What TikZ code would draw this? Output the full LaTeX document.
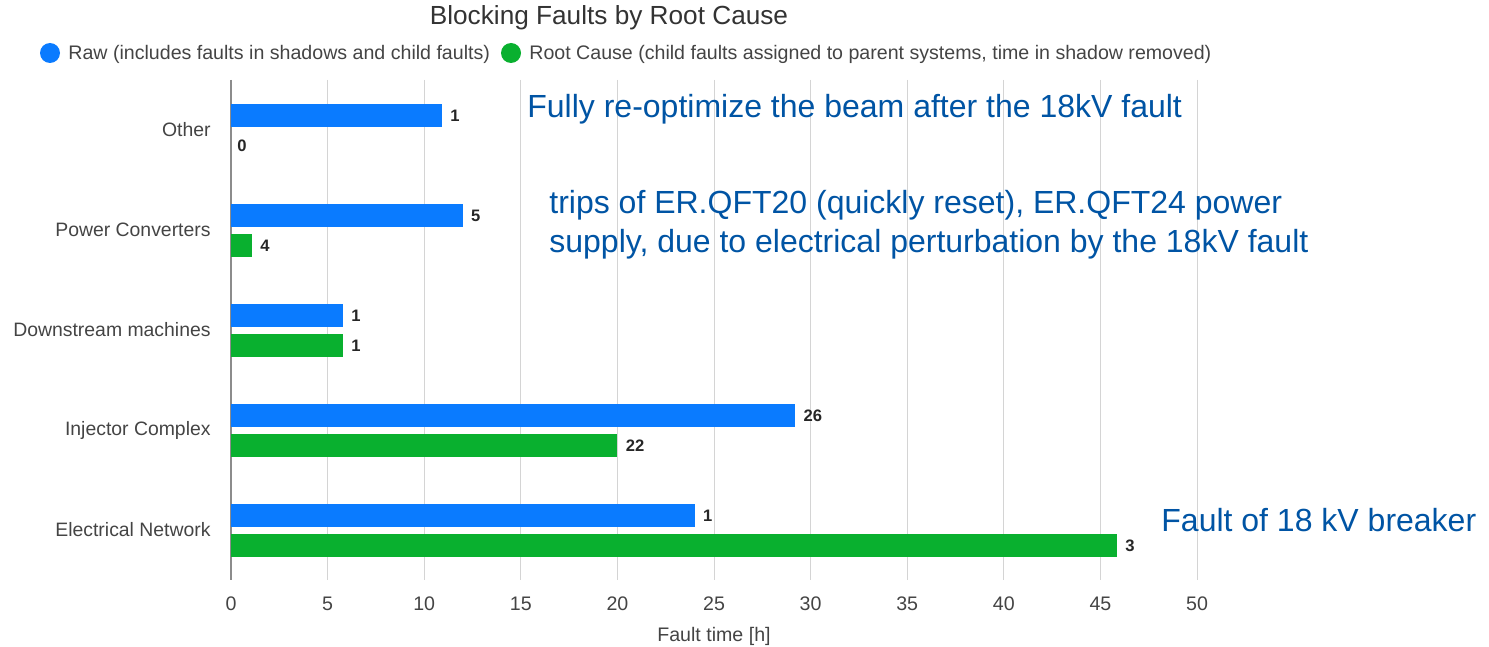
\documentclass[tikz,border=0pt]{standalone}
\usepackage{fontspec}
\setmainfont{Liberation Sans}
\usetikzlibrary{positioning}

\definecolor{rawblue}{RGB}{10,123,255}
\definecolor{rootgreen}{RGB}{9,176,47}
\definecolor{notecol}{RGB}{0,84,164}
\definecolor{gridcol}{RGB}{212,212,212}
\definecolor{axiscol}{RGB}{140,140,140}
\definecolor{labcol}{RGB}{68,68,68}

\begin{document}
\begin{tikzpicture}[
  x=0.5pt, y=-0.5pt,
  catlab/.style={anchor=east, text=labcol, inner sep=0pt, font=\fontsize{9.7}{11}\selectfont},
  ticklab/.style={anchor=center, text=labcol, inner sep=0pt, font=\fontsize{9.8}{11}\selectfont},
  vallab/.style={anchor=west, text=black!85, inner sep=0pt, font=\bfseries\fontsize{8.3}{10}\selectfont},
  leglab/.style={anchor=west, text=labcol, inner sep=0pt, font=\fontsize{9.8}{11}\selectfont},
  notetext/.style={anchor=west, text=notecol, inner sep=0pt, align=left, font=\fontsize{16}{19.5}\selectfont},
  rawbar/.style={fill=rawblue},
  rootbar/.style={fill=rootgreen},
  gridline/.style={draw=gridcol, line width=0.5pt}
]
\useasboundingbox (0,0) rectangle (1489,647);

% title and legend
\node[text=black!80, inner sep=0pt, font=\fontsize{13.1}{15}\selectfont] (title) at (609,18) {Blocking Faults by Root Cause};
\fill[rawblue] (50,53) circle (10) coordinate (rawdot);
\node[leglab] (rawleg) at (68,54) {Raw (includes faults in shadows and child faults)};
\fill[rootgreen] (511,53) circle (10) coordinate (rootdot);
\node[leglab] (rootleg) at (529,54) {Root Cause (child faults assigned to parent systems, time in shadow removed)};

% chart, x in hours
\begin{scope}[shift={(231,0)}, xscale=19.32]
\foreach \h in {5,10,...,50}
  \draw[gridline] (\h,80) -- (\h,580);
\foreach \h in {0,5,...,50}
  \node[ticklab] (t\h) at (\h,604) {\h};
\draw[axiscol, line width=1pt] (0,80) -- (0,580);

% Other
\fill[rawbar] (0,104) rectangle (10.92,127);
\node[vallab] (v1a) at (10.92,116) {\hspace{4pt}1};
\node[vallab] (v1b) at (0,146) {\hspace{3pt}0};
% Power Converters
\fill[rawbar] (0,204) rectangle (12.0,227);
\fill[rootbar] (0,234) rectangle (1.09,257);
\node[vallab] (v2a) at (12.0,216) {\hspace{4pt}5};
\node[vallab] (v2b) at (1.09,246) {\hspace{4pt}4};
% Downstream machines
\fill[rawbar] (0,304) rectangle (5.8,327);
\fill[rootbar] (0,334) rectangle (5.8,357);
\node[vallab] (v3a) at (5.8,316) {\hspace{4pt}1};
\node[vallab] (v3b) at (5.8,346) {\hspace{4pt}1};
% Injector Complex
\fill[rawbar] (0,404) rectangle (29.2,427);
\fill[rootbar] (0,434) rectangle (20.0,457);
\node[vallab] (v4a) at (29.2,416) {\hspace{4pt}26};
\node[vallab] (v4b) at (20.0,446) {\hspace{4pt}22};
% Electrical Network
\fill[rawbar] (0,504) rectangle (24.0,527);
\fill[rootbar] (0,534) rectangle (45.86,557);
\node[vallab] (v5a) at (24.0,516) {\hspace{4pt}1};
\node[vallab] (v5b) at (45.86,546) {\hspace{4pt}3};
\end{scope}

\node[ticklab] (xlab) at (714,636) {Fault time [h]};

% categories
\node[catlab] (c1) at (211,130) {Other};
\node[catlab] (c2) at (211,230) {Power Converters};
\node[catlab] (c3) at (211,330) {Downstream machines};
\node[catlab] (c4) at (211,430) {Injector Complex};
\node[catlab] (c5) at (211,530) {Electrical Network};

% notes
\node[notetext] (n1) at (527,109) {Fully re-optimize the beam after the 18kV fault};
\node[notetext] (n2) at (549,225) {trips of ER.QFT20 (quickly reset), ER.QFT24 power\\supply, due to electrical perturbation by the 18kV fault};
\node[notetext] (n3) at (1161,520) {Fault of 18 kV breaker};
\end{tikzpicture}
\end{document}
